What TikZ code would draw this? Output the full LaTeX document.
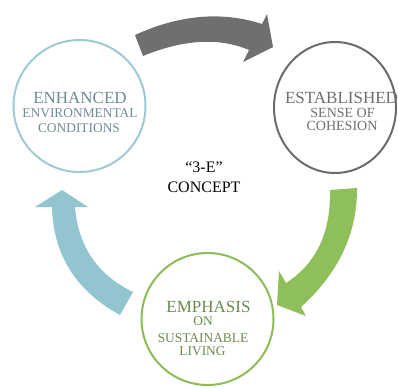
\documentclass[tikz,border=0pt]{standalone}
\usepackage{fontspec}
\setmainfont{Liberation Serif}
\usetikzlibrary{shapes.geometric}
\definecolor{envblue}{HTML}{9FCAD3}
\definecolor{envtext}{HTML}{6F8C93}
\definecolor{estgray}{HTML}{6B6B6B}
\definecolor{esttext}{HTML}{6E6E6E}
\definecolor{empgreen}{HTML}{8CBC57}
\definecolor{emptext}{HTML}{6A8A4C}
\definecolor{arrgray}{HTML}{6F6F6D}
\definecolor{arrgreen}{HTML}{8FBF5B}
\definecolor{arrblue}{HTML}{93C5D1}
\tikzset{
  ring/.style={draw, line width=2pt, fill=none, inner sep=0pt},
  txt/.style={inner sep=0pt, anchor=base},
  big/.style={txt, font=\fontsize{17}{17}\selectfont},
  small/.style={txt, font=\fontsize{13.4}{13.4}\selectfont},
  mid/.style={txt, font=\fontsize{14}{14}\selectfont},
}
\begin{document}
\begin{tikzpicture}[x=1pt,y=-1pt]
\useasboundingbox (0,0) rectangle (398,388);
% circles
\node[ring, circle, draw=envblue, minimum size=132pt] (env) at (79.5,106) {};
\node[ring, ellipse, draw=estgray, minimum width=122pt, minimum height=131pt] (est) at (335,107.5) {};
\node[ring, circle, draw=empgreen, minimum size=132pt] (emp) at (207.5,319) {};
% arrows
\fill[arrgray] (135,35) .. controls (179.3,14.7) and (221.7,11) .. (262,24) -- (267,14) -- (273,47) -- (243,62) -- (249,50)
  .. controls (219,37.3) and (183.7,39.3) .. (143,56) -- cycle;
\fill[arrgreen] (357,188) .. controls (357.3,233.7) and (338.3,273.3) .. (301,307) -- (306,316) -- (277,305) -- (279,271) -- (286,283)
  .. controls (316.7,263.3) and (331,231.7) .. (330,190) -- cycle;
\fill[arrblue] (120,315) .. controls (76,291) and (53.3,255) .. (52,207) -- (35,207) -- (62,190) -- (88,207) -- (75,207)
  .. controls (78.3,246.7) and (97.7,275) .. (133,292) -- cycle;
% texts
\node[big, text=envtext] (env1) at (80,103) {ENHANCED};
\node[small, text=envtext] (env2) at (80,117.5) {ENVIRONMENTAL};
\node[small, text=envtext] (env3) at (79,132.5) {CONDITIONS};
\node[big, text=esttext] (est1) at (341.5,103) {ESTABLISHED};
\node[mid, text=esttext] (est2) at (342.5,117) {SENSE OF};
\node[mid, text=esttext] (est3) at (342,130.5) {COHESION};
\node[big, text=emptext] (emp1) at (208.5,312) {EMPHASIS};
\node[small, text=emptext] (emp2) at (203,325) {ON};
\node[small, text=emptext] (emp3) at (203,342) {SUSTAINABLE};
\node[small, text=emptext] (emp4) at (202.5,355) {LIVING};
\node[txt, font=\fontsize{16}{16}\selectfont] (c1) at (204,172) {“3-E”};
\node[txt, font=\fontsize{16}{16}\selectfont] (c2) at (204,192) {CONCEPT};
\end{tikzpicture}
\end{document}
